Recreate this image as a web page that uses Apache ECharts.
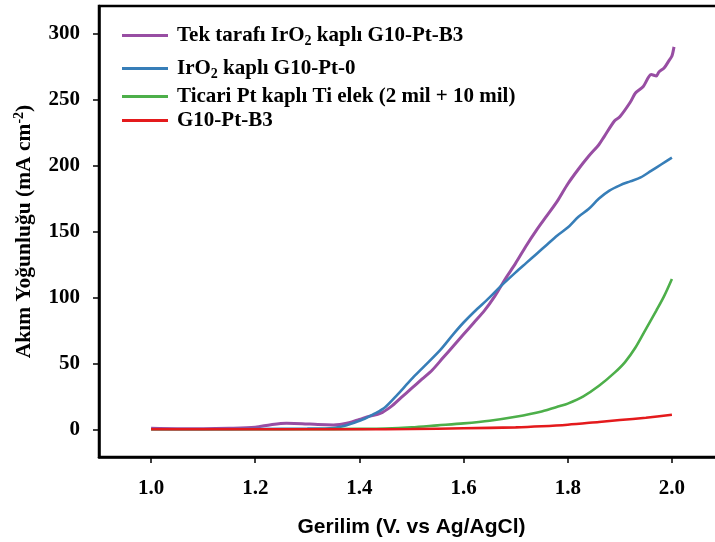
<!DOCTYPE html>
<html>
<head>
<meta charset="utf-8">
<script src="https://cdn.jsdelivr.net/npm/echarts@6/dist/echarts.min.js"></script>
<style>html,body{margin:0;padding:0;background:#fff}#c{width:715px;height:542px}</style>
</head>
<body>
<div id="c"></div>
<script>
var seriesNames = ['Tek tarafı IrO{sub|2} kaplı G10-Pt-B3', 'IrO{sub|2} kaplı G10-Pt-0', 'Ticari Pt kaplı Ti elek (2 mil + 10 mil)', 'G10-Pt-B3'];
var xTicks = [1.0, 1.2, 1.4, 1.6, 1.8, 2.0];
var yTicks = [0, 50, 100, 150, 200, 250, 300];

var purpleX = [1.00,1.05,1.10,1.15,1.20,1.23,1.26,1.29,1.32,1.35,1.38,1.40,1.42,1.44,1.46,1.48,1.50,1.52,1.54,1.56,1.58,1.60,1.62,1.64,1.66,1.68,1.70,1.72,1.74,1.76,1.78,1.80,1.82,1.84,1.86,1.87,1.89,1.90,1.92,1.93,1.945,1.955,1.96,1.97,1.975,1.985,1.995,2.0,2.004];
var purpleY = [0.8,0.5,0.5,0.8,1.6,3.5,4.6,4.3,3.6,3.3,5,7.5,10,12,17,24,31,38,45,54,63,72,81,90,101,114,126,139,151,162,173,186,197,207,216,222,234,237,248,255,260,267,269,268,271,274,280,283,290];

var blueX = [1.00,1.10,1.20,1.30,1.35,1.37,1.39,1.41,1.43,1.45,1.47,1.50,1.52,1.555,1.58,1.60,1.62,1.65,1.67,1.70,1.72,1.74,1.76,1.78,1.80,1.82,1.84,1.86,1.88,1.90,1.92,1.94,1.96,1.98,2.0];
var blueY = [0,0,0.2,0.5,1,2.5,5,8,12,17,25,38,46,60,72,81,89,100,108,119,126,133,140,147,153,161,167,175,181,185,188,191,196,201,206];

var greenX = [1.00,1.20,1.30,1.40,1.45,1.50,1.55,1.60,1.65,1.70,1.75,1.785,1.80,1.83,1.86,1.89,1.91,1.93,1.95,1.97,1.985,2.0];
var greenY = [0,0,0,0.3,0.6,1.5,3,4.5,6.5,9.5,13.5,17.6,19.5,25,33,43,51,62,76,90,101,114];

var redX = [1.00,1.20,1.40,1.50,1.60,1.70,1.75,1.80,1.86,1.90,1.95,2.0];
var redY = [0,0,0,0.2,0.8,1.5,2.3,3.5,5.6,7,8.8,11];

var colors = ['#984EA3', '#377EB8', '#4DAF4A', '#E41A1C'];

function pairs(xs, ys) { return xs.map(function (x, i) { return [x, ys[i]]; }); }

var serif = 'Liberation Serif, Times New Roman, serif';
var richSub = { sub: { fontSize: 14, fontWeight: 'bold', fontFamily: serif, color: '#000', lineHeight: 14, padding: [11, 0, 0, 0] } };

var legendTops = [18, 51, 81, 105];
var legends = seriesNames.map(function (n, i) {
  return {
    data: [n],
    left: 117,
    top: legendTops[i],
    orient: 'vertical',
    itemWidth: 46,
    itemHeight: 14,
    icon: 'path://M0,0 L46,0 L46,3 L0,3 Z',
    textStyle: { fontFamily: serif, fontWeight: 'bold', fontSize: 21, color: '#000', rich: richSub, padding: [0, 0, 0, 4] },
    selectedMode: false
  };
});

var data = [pairs(purpleX, purpleY), pairs(blueX, blueY), pairs(greenX, greenY), pairs(redX, redY)];

var chart = echarts.init(document.getElementById('c'), null, { renderer: 'canvas' });
chart.setOption({
  animation: false,
  backgroundColor: '#fff',
  grid: { left: 99, top: 6, width: 625, bottom: 85, show: true, borderColor: '#000', borderWidth: 2.5,
    containLabel: false, outerBoundsMode: 'none' },
  legend: legends,
  xAxis: {
    type: 'value', min: 0.9, max: 2.1,
    name: 'Gerilim (V. vs Ag/AgCl)', nameLocation: 'middle', nameGap: 60,
    nameTextStyle: { fontFamily: 'Liberation Sans, Arial, sans-serif', fontWeight: 'bold', fontSize: 21, color: '#000' },
    axisLine: { show: true, onZero: false, lineStyle: { color: '#000', width: 2.5 } },
    axisTick: { show: true, customValues: xTicks, length: 6, lineStyle: { color: '#000', width: 1.5 } },
    axisLabel: { customValues: xTicks, margin: 21, fontFamily: serif, fontWeight: 'bold', fontSize: 21, color: '#000',
      formatter: function (v) { return v.toFixed(1); } },
    splitLine: { show: false }
  },
  yAxis: {
    type: 'value', min: -21, max: 321,
    name: 'Akım Yoğunluğu (mA cm{sup|-2})', nameLocation: 'middle', nameGap: 64, nameRotate: 90,
    nameTextStyle: { fontFamily: serif, fontWeight: 'bold', fontSize: 21.5, color: '#000',
      rich: { sup: { fontFamily: serif, fontWeight: 'bold', fontSize: 14, color: '#000', lineHeight: 14, padding: [0, 0, 10, 0] } } },
    axisLine: { show: true, onZero: false, lineStyle: { color: '#000', width: 2.5 } },
    axisTick: { show: true, customValues: yTicks, length: 6, lineStyle: { color: '#000', width: 1.5 } },
    axisLabel: { customValues: yTicks, margin: 19, fontFamily: serif, fontWeight: 'bold', fontSize: 21, color: '#000' },
    splitLine: { show: false }
  },
  series: seriesNames.map(function (n, i) {
    return {
      name: n, type: 'line', data: data[i], symbol: 'none', smooth: 0.3,
      lineStyle: { color: colors[i], width: i === 0 ? 3 : 2.6 },
      itemStyle: { color: colors[i] },
      z: 2 + (i === 3 ? 1 : 0)
    };
  })
});
</script>
</body>
</html>
